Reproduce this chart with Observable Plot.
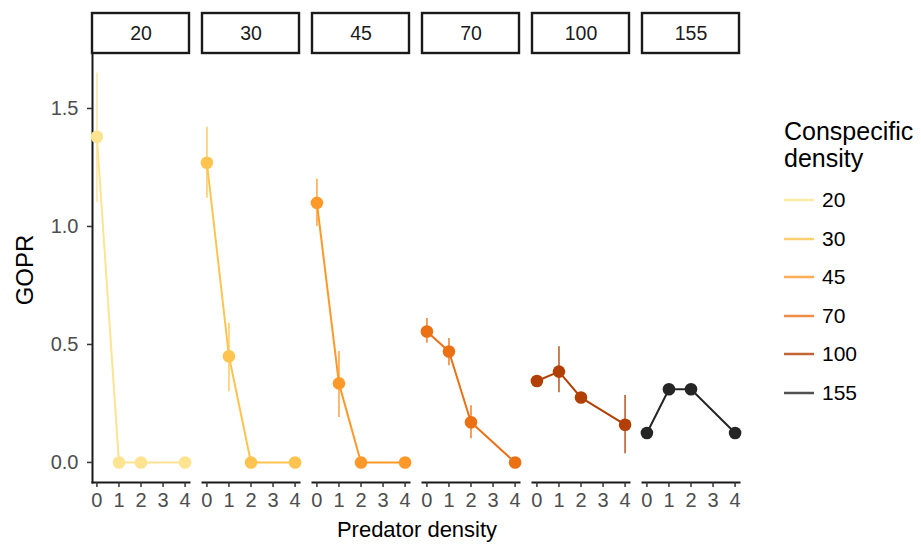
<!DOCTYPE html>
<html>
<head>
<meta charset="utf-8">
<script src="https://cdn.jsdelivr.net/npm/d3@7"></script>
<script src="https://cdn.jsdelivr.net/npm/@observablehq/plot@0.6"></script>
<style>
  html, body { margin: 0; padding: 0; background: #fff; }
  #wrap { position: relative; width: 921px; height: 547px; font-family: "Liberation Sans", Arial, sans-serif; }
  #chart { position: absolute; left: 0; top: 0; }
  .ylab { position: absolute; left: 25px; top: 270px; transform: translate(-50%, -50%) rotate(-90deg); font-size: 24px; color: #000; white-space: nowrap; }
  .xlab { position: absolute; left: 417px; top: 530px; transform: translate(-50%, -50%); font-size: 22px; color: #000; white-space: nowrap; }
  #legend { position: absolute; left: 784px; top: 118px; }
  #legend .title { font-size: 25px; line-height: 27px; color: #000; margin-bottom: 9px; }
  #legend .item { display: flex; align-items: center; height: 38.5px; }
  #legend .item svg { margin-left: 0px; margin-right: 8px; }
  #legend .item span { font-size: 21px; color: #000; }
</style>
</head>
<body>
<div id="wrap">
  <div id="chart"></div>
  <div class="ylab">GOPR</div>
  <div class="xlab">Predator density</div>
  <div id="legend"></div>
</div>
<script>
// Conspecific density categories (facets / colour)
const densities = ["20", "30", "45", "70", "100", "155"];
const colors = ["#fee391", "#fec44f", "#fe9929", "#ec7014", "#b23f04", "#252525"];
// Predator density levels
const predator = [0, 1, 2, 4];
const xTicks = [0, 1, 2, 3, 4];
const yTicks = [0, 0.5, 1.0, 1.5];

// GOPR means per conspecific density
const gopr20  = [1.38, 0, 0, 0];
const gopr30  = [1.27, 0.45, 0, 0];
const gopr45  = [1.10, 0.335, 0, 0];
const gopr70  = [0.555, 0.47, 0.17, 0];
const gopr100 = [0.345, 0.385, 0.275, 0.16];
const gopr155 = [0.125, 0.31, 0.31, 0.125];

// Error bar lower bounds
const lo20  = [1.10, 0, 0, 0];
const lo30  = [1.12, 0.30, 0, 0];
const lo45  = [1.00, 0.19, 0, 0];
const lo70  = [0.505, 0.41, 0.10, 0];
const lo100 = [0.33, 0.295, 0.265, 0.037];
const lo155 = [0.12, 0.295, 0.295, 0.12];
// Error bar upper bounds
const hi20  = [1.65, 0, 0, 0];
const hi30  = [1.42, 0.59, 0, 0];
const hi45  = [1.20, 0.47, 0, 0];
const hi70  = [0.61, 0.525, 0.24, 0];
const hi100 = [0.36, 0.49, 0.285, 0.284];
const hi155 = [0.13, 0.33, 0.33, 0.13];

const means = [gopr20, gopr30, gopr45, gopr70, gopr100, gopr155];
const lows = [lo20, lo30, lo45, lo70, lo100, lo155];
const highs = [hi20, hi30, hi45, hi70, hi100, hi155];

const rows = [];
densities.forEach((cd, i) => {
  predator.forEach((p, j) => {
    rows.push({cd, pred: p, gopr: means[i][j], lo: lows[i][j], hi: highs[i][j]});
  });
});

const font = "Liberation Sans, Arial, sans-serif";

const chart = Plot.plot({
  width: 760,
  height: 547,
  marginLeft: 90,
  marginRight: 18,
  marginTop: 53,
  marginBottom: 65,
  style: {fontFamily: font, background: "transparent", overflow: "visible"},
  fx: {domain: densities, padding: 0.117, axis: null, label: null},
  x: {domain: [-0.2, 4.2], label: null},
  y: {domain: [-0.085, 1.733], label: null},
  color: {domain: densities, range: colors},
  marks: [
    Plot.frame({anchor: "bottom", stroke: "#1a1a1a", strokeWidth: 2}),
    Plot.frame({anchor: "left", stroke: "#1a1a1a", strokeWidth: 2, facetAnchor: "left"}),
    Plot.axisX({ticks: xTicks, tickFormat: d3.format("d"), tickSize: 5, tickPadding: 5, fontSize: 20, fill: "#4d4d4d", stroke: "#333", strokeWidth: 1.5, label: null}),
    Plot.axisY({ticks: yTicks, tickFormat: d3.format(".1f"), tickSize: 5, tickPadding: 9, fontSize: 20, fill: "#4d4d4d", stroke: "#333", strokeWidth: 1.5, label: null}),
    Plot.axisFx({anchor: "top", tickSize: 0, tickPadding: 14, fontSize: 19.5, fill: "#1a1a1a", label: null}),
    Plot.ruleX(rows, {fx: "cd", x: "pred", y1: "lo", y2: "hi", stroke: "cd", strokeWidth: 1.8, strokeOpacity: 0.75}),
    Plot.line(rows, {fx: "cd", x: "pred", y: "gopr", z: "cd", stroke: "cd", strokeWidth: 2}),
    Plot.dot(rows, {fx: "cd", x: "pred", y: "gopr", r: 6.3, fill: "cd", stroke: "none"})
  ]
});

document.getElementById("chart").appendChild(chart);

// Facet strip boxes drawn from the fx scale
const fx = chart.scale("fx");
const svg = d3.select(chart);
const g = svg.insert("g", ":first-child");
densities.forEach(cd => {
  g.append("rect")
    .attr("x", fx.apply(cd))
    .attr("y", 13)
    .attr("width", fx.bandwidth)
    .attr("height", 40)
    .attr("fill", "#fff")
    .attr("stroke", "#1a1a1a")
    .attr("stroke-width", 2.4);
});

// Legend
const legend = d3.select("#legend");
legend.append("div").attr("class", "title").html("Conspecific<br>density");
densities.forEach((cd, i) => {
  const item = legend.append("div").attr("class", "item");
  const s = item.append("svg").attr("width", 30).attr("height", 6);
  s.append("line").attr("x1", 0).attr("x2", 30).attr("y1", 3).attr("y2", 3)
    .attr("stroke", colors[i]).attr("stroke-width", 2.5).attr("stroke-opacity", 0.8);
  item.append("span").text(cd);
});
</script>
</body>
</html>
